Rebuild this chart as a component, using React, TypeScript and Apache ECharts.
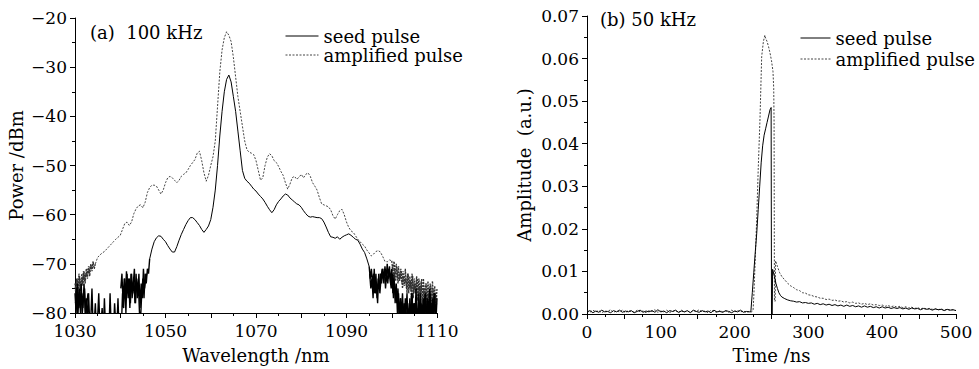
import React, { useEffect, useRef } from "react";
import * as echarts from "echarts";

// ---------- Panel (a): spectra, 100 kHz ----------
const wavelengthTicks = [1030, 1050, 1070, 1090, 1110];
const powerTicks = [-80, -70, -60, -50, -40, -30, -20];

// seed pulse, noisy left wing (start 1030 nm, every 0.25 nm), dBm
const seedNoiseLeft = [
  -76, -80, -74, -79, -75, -81, -76, -79, -74, -80, -77, -82,
  -76, -82, -81, -75, -83, -82, -78, -84, -81, -76, -83, -82, -79, -84,
  -77, -83, -82, -80, -84, -76, -83, -81, -84, -78, -82, -83, -77, -84,
  -80, -83, -76, -79, -73, -80, -72, -77, -73, -78, -72, -76, -73,
  -78, -72, -77, -74, -80, -81, -76, -73, -77, -72, -74, -71, -72, -69,
];
// seed pulse, second set of noise readings between the above (start 1030.125 nm, every 0.25 nm)
const seedNoiseLeftB1 = [-78, -75, -81, -76, -79, -74, -80, -77, -75, -81, -78, -76];
// (start 1040.125 nm, every 0.25 nm)
const seedNoiseLeftB2 = [
  -75, -72, -78, -73, -77, -71.5, -76, -73, -79, -72, -77, -74,
  -71, -78, -73, -76, -72, -79, -74, -77, -71, -75, -73, -72,
];
// seed pulse, smooth part [nm, dBm]
const seedSmooth: [number, number][] = [
  [1046.5, -69], [1047, -67], [1047.5, -65.5], [1048, -64.7], [1048.5, -64.3], [1049, -64.4],
  [1049.5, -65], [1050, -65.5], [1050.5, -66.3], [1051, -67], [1051.5, -67.6], [1052, -67.6],
  [1052.5, -66.5], [1053, -65.2], [1053.5, -64], [1054, -63], [1054.5, -62], [1055, -61.2],
  [1055.5, -60.6], [1056, -60.6], [1056.5, -61], [1057, -61.6], [1057.5, -62.2], [1058, -63],
  [1058.5, -63.6], [1059, -63], [1059.5, -62.3], [1060, -61], [1060.5, -58.5], [1061, -55],
  [1061.5, -50], [1062, -44], [1062.5, -39], [1063, -35], [1063.5, -32.5], [1064, -31.6],
  [1064.5, -33], [1065, -36], [1065.5, -39], [1066, -43], [1066.5, -47], [1067, -51],
  [1067.5, -52.6], [1068, -53.2], [1068.5, -53.6], [1069, -54.2], [1069.5, -54.8], [1070, -55.2],
  [1070.5, -55.8], [1071, -56.3], [1071.5, -56.8], [1072, -57.5], [1072.5, -58.3], [1073, -59],
  [1073.5, -59.6], [1074, -59], [1074.5, -58], [1075, -57.3], [1075.5, -56.8], [1076, -56.2],
  [1076.5, -55.8], [1077, -56], [1077.5, -56.6], [1078, -57], [1078.5, -57.4], [1079, -57.8],
  [1079.5, -58], [1080, -58.5], [1080.5, -59.2], [1081, -59.8], [1081.5, -60.3], [1082, -60.5],
  [1082.5, -60.4], [1083, -60.5], [1083.5, -60.6], [1084, -60.6], [1084.5, -60.8], [1085, -61.5],
  [1085.5, -62.5], [1086, -63.6], [1086.5, -64.5], [1087, -64.6], [1087.5, -64.8], [1088, -64.5],
  [1088.5, -65], [1089, -64.6], [1089.5, -64.3], [1090, -64.1], [1090.5, -63.9], [1091, -64.2],
  [1091.5, -64.6], [1092, -65], [1092.5, -65.2], [1093, -66], [1093.5, -67], [1094, -67.7],
  [1094.5, -69], [1095, -70.5],
];
// seed pulse, noisy right wing (start 1095 nm, every 0.25 nm)
const seedNoiseRight = [
  -70.5, -73, -71, -74, -72, -76, -72, -77, -73, -75, -72, -74,
  -71, -74, -70.5, -73, -70, -73, -70.5, -74, -71, -76, -72, -78,
  -74, -80, -76, -82, -77, -83, -78, -82, -77, -83, -79, -82,
  -77, -82, -76, -83, -78, -81, -77, -84, -76, -82, -78, -83,
  -77, -81, -76, -83, -78, -82, -76, -83, -77, -81, -76, -82,
  -77,
];
// second set of readings (start 1095.125 nm, every 0.25 nm)
const seedNoiseRightB = [
  -72, -75, -73, -77, -71, -76, -74, -78, -72, -76, -73, -71,
  -73, -71, -75, -72, -74, -71, -73, -75, -72, -77, -74, -76,
  -78, -75, -81, -77, -80, -76, -82, -78, -80, -76, -83, -78,
  -80, -76, -82, -78, -81, -75, -83, -79, -80, -76, -82, -78,
  -79, -76, -82, -77, -80, -75, -83, -78, -81, -76, -82, -78,
];

// amplified pulse, noisy left wing (start 1030 nm, every 0.25 nm)
const ampNoiseLeft = [
  -74, -77, -73, -76, -72.5, -75.5, -72, -74.5, -71.5, -74, -71, -73, -70.5, -72.5, -70, -71.5, -69.5,
  -71, -70,
];
// second set (start 1030.125 nm, every 0.25 nm)
const ampNoiseLeftB = [
  -75.5, -73, -76.5, -72, -75, -73, -74, -71.5, -73.5, -72, -72.5, -71, -72, -70.5, -71, -70, -70.5,
];
const ampSmooth: [number, number][] = [
  [1034.5, -70], [1035, -68.7], [1035.5, -68.2], [1036, -67.8], [1036.5, -67.5], [1037, -67],
  [1037.5, -66.5], [1038, -66], [1038.5, -65.5], [1039, -65], [1039.5, -64.6], [1040, -64.2],
  [1040.5, -63], [1041, -61.8], [1041.5, -61.5], [1042, -62.2], [1042.5, -61.5], [1043, -59.8],
  [1043.5, -58.8], [1044, -58.2], [1044.5, -58], [1045, -58.6], [1045.5, -57.5], [1046, -55.5],
  [1046.5, -54.5], [1047, -54], [1047.5, -54], [1048, -54.2], [1048.5, -55], [1049, -55.8],
  [1049.5, -55], [1050, -53.5], [1050.5, -52.5], [1051, -52.2], [1051.5, -52.5], [1052, -53],
  [1052.5, -53.5], [1053, -53], [1053.5, -52.2], [1054, -51.8], [1054.5, -51.5], [1055, -50.8],
  [1055.5, -50], [1056, -49.4], [1056.5, -48.8], [1057, -47.5], [1057.5, -47.1], [1058, -49],
  [1058.5, -51.5], [1059, -53.2], [1059.5, -52], [1060, -50], [1060.5, -48.2], [1061, -45],
  [1061.5, -38], [1062, -31], [1062.5, -26.5], [1063, -24], [1063.5, -22.8], [1064, -23.5],
  [1064.5, -24.8], [1065, -28], [1065.5, -32], [1066, -36], [1066.5, -39], [1067, -42],
  [1067.5, -45], [1068, -46.8], [1068.5, -47.3], [1069, -47.5], [1069.5, -47.8], [1070, -49],
  [1070.5, -51], [1071, -53], [1071.5, -52.5], [1072, -50], [1072.5, -48.3], [1073, -47.6],
  [1073.5, -48], [1074, -49], [1074.5, -49.4], [1075, -50.2], [1075.5, -51.2], [1076, -52],
  [1076.5, -53.5], [1077, -54.8], [1077.5, -53.8], [1078, -52.5], [1078.5, -52.2], [1079, -52.8],
  [1079.5, -52.4], [1080, -51.8], [1080.5, -52.5], [1081, -51.8], [1081.5, -51.5], [1082, -52.2],
  [1082.5, -53.5], [1083, -54.2], [1083.5, -55], [1084, -56.5], [1084.5, -57.8], [1085, -58],
  [1085.5, -58.2], [1086, -58.4], [1086.5, -59], [1087, -60.2], [1087.5, -60.9], [1088, -60],
  [1088.5, -59.2], [1089, -58.9], [1089.5, -60], [1090, -61.5], [1090.5, -62.6], [1091, -63.3],
  [1091.5, -63.6], [1092, -64.3], [1092.5, -65], [1093, -65.5], [1093.5, -66], [1094, -66.4],
  [1094.5, -67.2], [1095, -67.8], [1095.5, -68.4], [1096, -68], [1096.5, -67.5], [1097, -67.3],
  [1097.5, -67.6], [1098, -68.5], [1098.5, -69.5], [1099, -69.6], [1099.5, -69.2], [1100, -69.4],
];
// amplified pulse, noisy right wing (start 1100 nm, every 0.25 nm)
const ampNoiseRight = [
  -69.4, -71.5, -69.5, -72, -70, -73, -70.5, -73.5, -71, -74, -71.5,
  -74.5, -71, -75, -72, -76, -72.5, -75.5, -72, -77, -73,
  -76, -72.5, -77.5, -73, -76.5, -73.5, -78, -73, -77, -74,
  -78.5, -73.5, -77, -74, -79, -73.5, -78, -74.5, -79, -75,
];
// second set (start 1100.125 nm, every 0.25 nm)
const ampNoiseRightB = [
  -70.5, -72.5, -71, -73.5, -70.5, -74, -72, -73, -71.5, -75,
  -72.5, -74, -73, -76, -72, -75, -73.5, -77, -72.5, -76,
  -74, -75.5, -73, -77, -74.5, -76, -73, -78, -75, -77,
  -74, -78, -76, -79, -74.5, -77.5, -75, -79, -76, -78,
];

// ---------- Panel (b): pulse shapes, 50 kHz ----------
const timeTicks = [0, 100, 200, 300, 400, 500];
const amplitudeTicks = [0, 0.01, 0.02, 0.03, 0.04, 0.05, 0.06, 0.07];
const E4 = 1e-4; // the baseline / tail arrays are in units of 1e-4 a.u.

// seed baseline, start 0 ns, every 4 ns (x1e-4)
const seedBaselineE4 = [
  5, 8, 3, 7, 4, 9, 5, 6, 3, 8, 5, 9, 4, 7, 5, 8, 3, 6, 9, 4,
  7, 5, 8, 4, 10, 5, 7, 3, 8, 6, 9, 4, 7, 5, 8, 3, 9, 6, 4, 8,
  5, 7, 3, 9, 5, 6, 4, 8, 6, 3, 7, 5, 9, 4, 6, 5,
];
const seedPulse: [number, number][] = [
  [222, 0.0005], [224, 0.005], [226, 0.0098], [228, 0.0145], [230, 0.019], [232, 0.0245],
  [234, 0.03], [236, 0.0355], [238, 0.0395], [240, 0.042], [242, 0.0435], [244, 0.045],
  [246, 0.0465], [248, 0.048], [249.5, 0.0485], [250, 0], [251, 0], [251.5, 0.0105],
  [254, 0.0088], [256, 0.0072], [258, 0.006], [260, 0.005], [262, 0.0044],
];
// seed tail, start 264 ns, every 4 ns (x1e-4)
const seedTailE4 = [
  40, 36, 33, 31, 30, 28, 29, 26, 27, 25, 26, 23, 25, 22, 24, 21, 23, 20, 22, 19,
  21, 18, 21, 18, 20, 17, 19, 16, 19, 16, 18, 15, 17, 14, 17, 14, 16, 13, 15, 13,
  15, 12, 14, 11, 14, 12, 13, 10, 13, 11, 12, 9, 12, 10, 11, 8, 11, 9, 10, 8,
];
// amplified baseline, start 0 ns, every 4 ns (x1e-4)
const ampBaselineE4 = [
  7, 4, 9, 5, 8, 3, 7, 6, 10, 4, 7, 5, 9, 3, 8, 6, 4, 9, 5, 7,
  3, 8, 6, 10, 4, 7, 5, 9, 4, 6, 8, 3, 9, 5, 7, 4, 8, 6, 10, 5,
  7, 3, 9, 6, 4, 8, 5, 7, 4, 9, 6, 8, 5, 7, 4, 6,
];
const ampPulse: [number, number][] = [
  [223, 0.0005], [225, 0.0008], [226, 0.004], [228, 0.013], [230, 0.0226], [232, 0.034],
  [234.4, 0.0458], [236.7, 0.0605], [239, 0.064], [241, 0.0655], [242, 0.0648], [244, 0.064],
  [246, 0.0628], [248, 0.0613], [250, 0.0595], [252, 0.057], [253, 0.053], [253.5, 0.045],
  [254, 0.003], [255, 0.003], [255.5, 0.0125], [258, 0.0112], [261, 0.0097],
];
// amplified tail, start 264 ns, every 4 ns (x1e-4)
const ampTailE4 = [
  88, 80, 72, 66, 62, 57, 55, 50, 49, 45, 44, 41, 40, 37, 37, 34, 35, 32, 33, 30,
  31, 28, 29, 26, 28, 25, 26, 23, 25, 22, 24, 21, 22, 20, 21, 18, 20, 17, 19, 16,
  18, 15, 17, 14, 16, 13, 15, 12, 14, 12, 13, 11, 12, 10, 12, 9, 11, 9, 10, 8,
];

const seriesNames = ["seed pulse", "amplified pulse"];

const FONT = '"DejaVu Serif", "Liberation Serif", serif';

function onGrid(start: number, step: number, vals: number[], scale = 1): [number, number][] {
  return vals.map((v, i) => [+(start + i * step).toFixed(4), v * scale]);
}

const txt = { fontFamily: FONT, fontSize: 17, color: "#000" };
const txtBig = { fontFamily: FONT, fontSize: 18, color: "#000" };

function App() {
  const ref = useRef<HTMLDivElement>(null);
  useEffect(() => {
    if (!ref.current) return;
    const chart = echarts.init(ref.current, null, { renderer: "svg" });

    const seedTime = [
      ...onGrid(0, 4, seedBaselineE4, E4),
      ...seedPulse,
      ...onGrid(264, 4, seedTailE4, E4),
    ];
    const ampTime = [
      ...onGrid(0, 4, ampBaselineE4, E4),
      ...ampPulse,
      ...onGrid(264, 4, ampTailE4, E4),
    ];

    const axisCommon = {
      axisLine: { show: true, onZero: false, lineStyle: { color: "#000", width: 1 } },
      axisTick: { show: true, inside: false, length: 5, lineStyle: { color: "#000" } },
      minorTick: { show: true, splitNumber: 2, length: 3, lineStyle: { color: "#000" } },
      splitLine: { show: false },
      nameTextStyle: { ...txtBig },
      nameLocation: "middle" as const,
    };

    const seedLine = { color: "#000", width: 1 };
    const seedNoisy = { color: "#000", width: 1.4 };
    const ampLine = { color: "#444", width: 1, type: [2, 1.5] as number[] };
    const ampNoisy = { color: "#333", width: 1.3, type: [2, 1] as number[] };

    const line = (name: string, xi: number, data: [number, number][], lineStyle: object, color: string) => ({
      name, type: "line", xAxisIndex: xi, yAxisIndex: xi, data,
      symbol: "none", showSymbol: false, lineStyle, itemStyle: { color }, clip: true, silent: true,
    });

    const legendCommon = {
      data: seriesNames,
      orient: "vertical",
      padding: 0,
      itemHeight: 14,
      selectedMode: false,
      itemStyle: { opacity: 0 },
      lineStyle: { width: 1 },
      textStyle: { ...txtBig, lineHeight: 16 },
    };

    chart.setOption({
      animation: false,
      backgroundColor: "#fff",
      grid: [
        { left: 75, top: 18, width: 362, height: 296, containLabel: false },
        { left: 587, top: 16, width: 369, height: 301, containLabel: false },
      ],
      xAxis: [
        {
          ...axisCommon,
          gridIndex: 0,
          type: "value",
          min: wavelengthTicks[0],
          max: wavelengthTicks[wavelengthTicks.length - 1],
          interval: 10,
          name: "Wavelength /nm",
          nameGap: 33,
          axisLabel: {
            ...txt,
            margin: 9,
            formatter: (v: number) => (wavelengthTicks.includes(v) ? String(v) : ""),
          },
        },
        {
          ...axisCommon,
          gridIndex: 1,
          type: "value",
          min: timeTicks[0],
          max: timeTicks[timeTicks.length - 1],
          interval: 50,
          name: "Time /ns",
          nameGap: 32,
          axisLabel: {
            ...txt,
            margin: 9,
            formatter: (v: number) => (timeTicks.includes(v) ? String(v) : ""),
          },
        },
      ],
      yAxis: [
        {
          ...axisCommon,
          gridIndex: 0,
          type: "value",
          min: powerTicks[0],
          max: powerTicks[powerTicks.length - 1],
          interval: 10,
          name: "Power /dBm",
          nameGap: 50,
          nameRotate: 90,
          axisLabel: {
            ...txt,
            margin: 8,
            formatter: (v: number) => String(v).replace("-", "\u2212"),
          },
        },
        {
          ...axisCommon,
          gridIndex: 1,
          type: "value",
          min: amplitudeTicks[0],
          max: amplitudeTicks[amplitudeTicks.length - 1],
          interval: 0.01,
          name: "Amplitude  (a.u.)",
          nameGap: 54,
          nameRotate: 90,
          axisLabel: {
            ...txt,
            margin: 8,
            formatter: (v: number) => v.toFixed(2),
          },
        },
      ],
      legend: [
        { ...legendCommon, left: 285, top: 27, itemWidth: 33, itemGap: 1 },
        { ...legendCommon, left: 800, top: 29, itemWidth: 30, itemGap: 3 },
      ],
      graphic: [
        {
          type: "text",
          left: 90,
          top: 23,
          style: { text: "(a)  100 kHz", font: `18px ${FONT}`, fill: "#000" },
        },
        {
          type: "text",
          left: 600,
          top: 10,
          style: { text: "(b) 50 kHz", font: `18px ${FONT}`, fill: "#000" },
        },
      ],
      series: [
        line(seriesNames[1], 0, ampSmooth, ampLine, "#444"),
        line(seriesNames[1], 0, onGrid(1030, 0.25, ampNoiseLeft), ampNoisy, "#444"),
        line(seriesNames[1], 0, onGrid(1030.125, 0.25, ampNoiseLeftB), ampNoisy, "#444"),
        line(seriesNames[1], 0, onGrid(1100, 0.25, ampNoiseRight), ampNoisy, "#444"),
        line(seriesNames[1], 0, onGrid(1100.125, 0.25, ampNoiseRightB), ampNoisy, "#444"),
        line(seriesNames[0], 0, seedSmooth, seedLine, "#000"),
        line(seriesNames[0], 0, onGrid(1030, 0.25, seedNoiseLeft), seedNoisy, "#000"),
        line(seriesNames[0], 0, onGrid(1030.125, 0.25, seedNoiseLeftB1), seedNoisy, "#000"),
        line(seriesNames[0], 0, onGrid(1040.125, 0.25, seedNoiseLeftB2), seedNoisy, "#000"),
        line(seriesNames[0], 0, onGrid(1095, 0.25, seedNoiseRight), seedNoisy, "#000"),
        line(seriesNames[0], 0, onGrid(1095.125, 0.25, seedNoiseRightB), seedNoisy, "#000"),
        line(seriesNames[1], 1, ampTime, ampLine, "#444"),
        line(seriesNames[0], 1, seedTime, seedLine, "#000"),
      ],
    });
    return () => chart.dispose();
  }, []);

  return (
    <div
      ref={ref}
      style={{ position: "absolute", left: 0, top: 0, width: 979, height: 369, background: "#fff" }}
    />
  );
}

export default App;
